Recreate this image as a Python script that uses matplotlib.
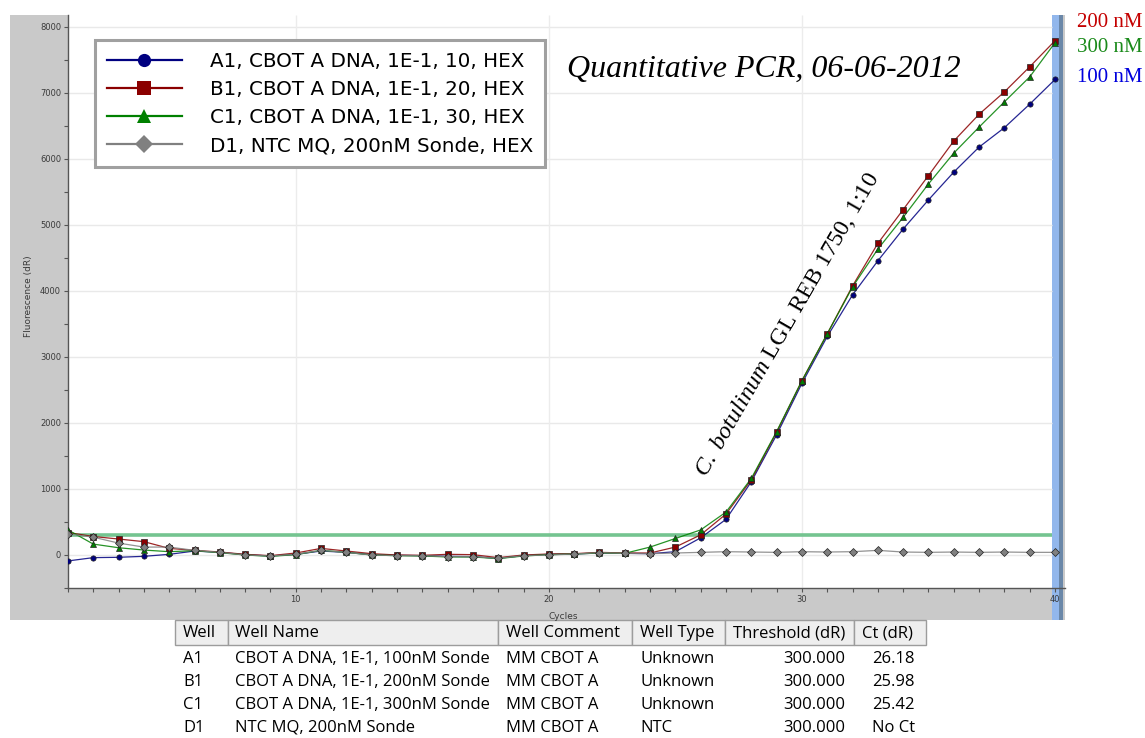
import numpy as np
import matplotlib
matplotlib.use("Agg")
import matplotlib.pyplot as plt
from matplotlib.patches import Rectangle
from matplotlib.lines import Line2D

plt.rcParams["mathtext.fontset"] = "custom"
plt.rcParams["mathtext.it"] = "Liberation Serif:italic"
plt.rcParams["mathtext.rm"] = "Liberation Serif"

# ---- amplification data (dR per cycle) ----
cycles = np.arange(1, 41)

a1_100nM = [-90, -40, -35, -20, 10, 60, 40, 5, -15, 10,
            60, 40, 5, -5, -10, -20, -25, -50, -10, 10,
            15, 30, 25, 20, 50, 260, 540, 1110, 1820, 2600,
            3310, 3940, 4456, 4938, 5379, 5800, 6179, 6473, 6829, 7203]
b1_200nM = [340, 280, 242, 202, 100, 70, 45, 10, -10, 30,
            100, 60, 20, 0, -5, 10, 5, -40, 0, 15,
            20, 40, 30, 30, 120, 305, 620, 1140, 1860, 2640,
            3350, 4076, 4720, 5232, 5748, 6271, 6676, 7015, 7395, 7790]
c1_300nM = [380, 165, 110, 75, 50, 65, 35, 0, -20, 5,
            70, 40, 0, -10, -15, -30, -30, -55, -15, 5,
            15, 30, 25, 120, 250, 380, 650, 1160, 1870, 2640,
            3350, 4060, 4634, 5115, 5621, 6088, 6482, 6864, 7242, 7760]
d1_ntc = [320, 270, 180, 120, 120, 70, 40, 0, -15, 10,
          70, 40, 0, -10, -10, -25, -25, -50, -10, 0,
          15, 35, 25, 20, 30, 40, 50, 45, 40, 50,
          45, 50, 70, 45, 40, 45, 40, 45, 40, 40]

series_labels = ["A1, CBOT A DNA, 1E-1, 10, HEX",
                 "B1, CBOT A DNA, 1E-1, 20, HEX",
                 "C1, CBOT A DNA, 1E-1, 30, HEX",
                 "D1, NTC MQ, 200nM Sonde, HEX"]
series_colors = ["#000080", "#8b0000", "#008000", "#808080"]
series_markers = ["o", "s", "^", "D"]

threshold = 300

# ---- well table ----
table_header = ["Well", "Well Name", "Well Comment", "Well Type", "Threshold (dR)", "Ct (dR)"]
wells = ["A1", "B1", "C1", "D1"]
well_names = ["CBOT A DNA, 1E-1, 100nM Sonde", "CBOT A DNA, 1E-1, 200nM Sonde",
              "CBOT A DNA, 1E-1, 300nM Sonde", "NTC MQ, 200nM Sonde"]
well_comments = ["MM CBOT A"] * 4
well_types = ["Unknown", "Unknown", "Unknown", "NTC"]
thresholds = [300.000] * 4
ct_values = ["26.18", "25.98", "25.42", "No Ct"]

conc_labels = ["200 nM", "300 nM", "100 nM"]
conc_colors = ["#c40000", "#1a8a1a", "#0000dd"]

W, H = 1145, 738
fig = plt.figure(figsize=(W / 100, H / 100), dpi=100)
fig.patch.set_facecolor("white")


def fx(px):
    return px / W


def fy(py):
    return 1 - py / H


def add_rect(x0, y0, x1, y1, **kw):
    r = Rectangle((fx(x0), fy(y1)), (x1 - x0) / W, (y1 - y0) / H,
                  transform=fig.transFigure, **kw)
    fig.patches.append(r)
    return r


# software window background, plot area and scroll bar
add_rect(10, 15, 1065, 620, facecolor="#c9c9c9", edgecolor="none", zorder=-3)
add_rect(68, 15, 1052, 588, facecolor="white", edgecolor="none", zorder=-2)
add_rect(1052, 15, 1059, 620, facecolor="#92b7ec", edgecolor="none", zorder=-1)
add_rect(1059, 15, 1063, 620, facecolor="#6a87a8", edgecolor="none", zorder=-1)

x_left, x_right = 68, 1065
cyc_px = (1055 - 68) / 39.0
ax = fig.add_axes([fx(x_left), fy(588), (x_right - x_left) / W, (588 - 15) / H])
ax.set_zorder(1)
ax.patch.set_visible(False)
ax.set_xlim(1, 1 + (x_right - x_left) / cyc_px)
ax.set_ylim(-500, 8180)
x_plot_end = 1 + (1052 - 68) / cyc_px

# faint grid
for gy in range(0, 9000, 1000):
    ax.hlines(gy, 1, x_plot_end, colors="#e9e9e9", lw=1, zorder=0)
for gx in (10, 20, 30):
    ax.vlines(gx, -500, 8180, colors="#ececec", lw=1, zorder=0)

# threshold
ax.hlines(threshold, 1, x_plot_end, colors="#74c490", lw=2.6, zorder=1)

for vals, col, mk in zip([a1_100nM, b1_200nM, c1_300nM, d1_ntc],
                         series_colors, series_markers):
    ax.plot(cycles, vals, color=col, lw=0.9, alpha=0.85, zorder=2)
    ax.plot(cycles, vals, ls="none", marker=mk, color=col, markersize=3.8,
            markeredgewidth=0.5, markeredgecolor="#222222", zorder=3)

for s in ("top", "right"):
    ax.spines[s].set_visible(False)
for s in ("left", "bottom"):
    ax.spines[s].set_color("#555555")
    ax.spines[s].set_linewidth(1)

ax.set_xticks([10, 20, 30, 40])
ax.set_xticks(cycles, minor=True)
ax.set_yticks(range(0, 9000, 1000))
ax.set_yticks(range(-500, 8500, 500), minor=True)
ax.tick_params(which="both", direction="out", length=3, width=0.8,
               color="#555555", labelsize=6, labelcolor="#3a3a3a", pad=2)
ax.set_ylabel("Fluorescence (dR)", fontsize=6.5, color="#3a3a3a")
ax.yaxis.set_label_coords((33 - x_left) / (x_right - x_left), (588 - 296) / 573)
ax.set_xlabel("Cycles", fontsize=6.5, color="#3a3a3a")
ax.xaxis.set_label_coords((563 - x_left) / (x_right - x_left), -24 / 573)

handles = [Line2D([], [], color=c, marker=m, markersize=9.5, lw=1.6,
                  markeredgewidth=0) for c, m in zip(series_colors, series_markers)]
leg = ax.legend(handles, series_labels, loc="upper left",
                bbox_to_anchor=(fx(95), fy(40)), bbox_transform=fig.transFigure,
                frameon=True, fancybox=False, edgecolor="#a0a0a0", framealpha=1,
                prop={"family": "DejaVu Sans", "size": 14.3},
                handlelength=3.77, handletextpad=1.4, labelspacing=0.46,
                borderpad=0.6, borderaxespad=0)
leg.get_frame().set_linewidth(2.2)
leg.set_zorder(5)

# annotations
fig.text(fx(567), fy(77), "Quantitative PCR, 06-06-2012", family="Liberation Serif",
         style="italic", fontsize=23, va="baseline", ha="left")
for lab, col, yb in zip(conc_labels, conc_colors, (27, 52, 82)):
    fig.text(fx(1077), fy(yb), lab, family="Liberation Serif", fontsize=15,
             color=col, va="baseline", ha="left")

fig.text(fx(706), fy(478), r"$\mathit{C.\ botulinum}$ LGL REB 1750, 1:10",
         family="Liberation Serif", fontsize=17.5, rotation=60,
         rotation_mode="anchor", ha="left", va="baseline", zorder=6)

# well table
col_edges = [175, 228, 498, 632, 725, 854, 926]
hdr_top, hdr_bot = 620, 645
for x0, x1 in zip(col_edges[:-1], col_edges[1:]):
    add_rect(x0, hdr_top, x1, hdr_bot, facecolor="#eeeeee",
             edgecolor="#9c9c9c", linewidth=1, zorder=0)

tfont = {"family": "Open Sans", "size": 12}
left_x = [183, 235, 506, 640, 733, 862]
for i, txt in enumerate(table_header):
    fig.text(fx(left_x[i]), fy(633), txt, ha="left", va="center", **tfont)

row_y = [659, 682, 705, 728]
for r in range(4):
    yy = fy(row_y[r])
    fig.text(fx(183), yy, wells[r], ha="left", va="center", **tfont)
    fig.text(fx(235), yy, well_names[r], ha="left", va="center", **tfont)
    fig.text(fx(506), yy, well_comments[r], ha="left", va="center", **tfont)
    fig.text(fx(640), yy, well_types[r], ha="left", va="center", **tfont)
    fig.text(fx(845), yy, f"{thresholds[r]:.3f}", ha="right", va="center", **tfont)
    fig.text(fx(915), yy, ct_values[r], ha="right", va="center", **tfont)

fig.savefig("out.png", dpi=100)
